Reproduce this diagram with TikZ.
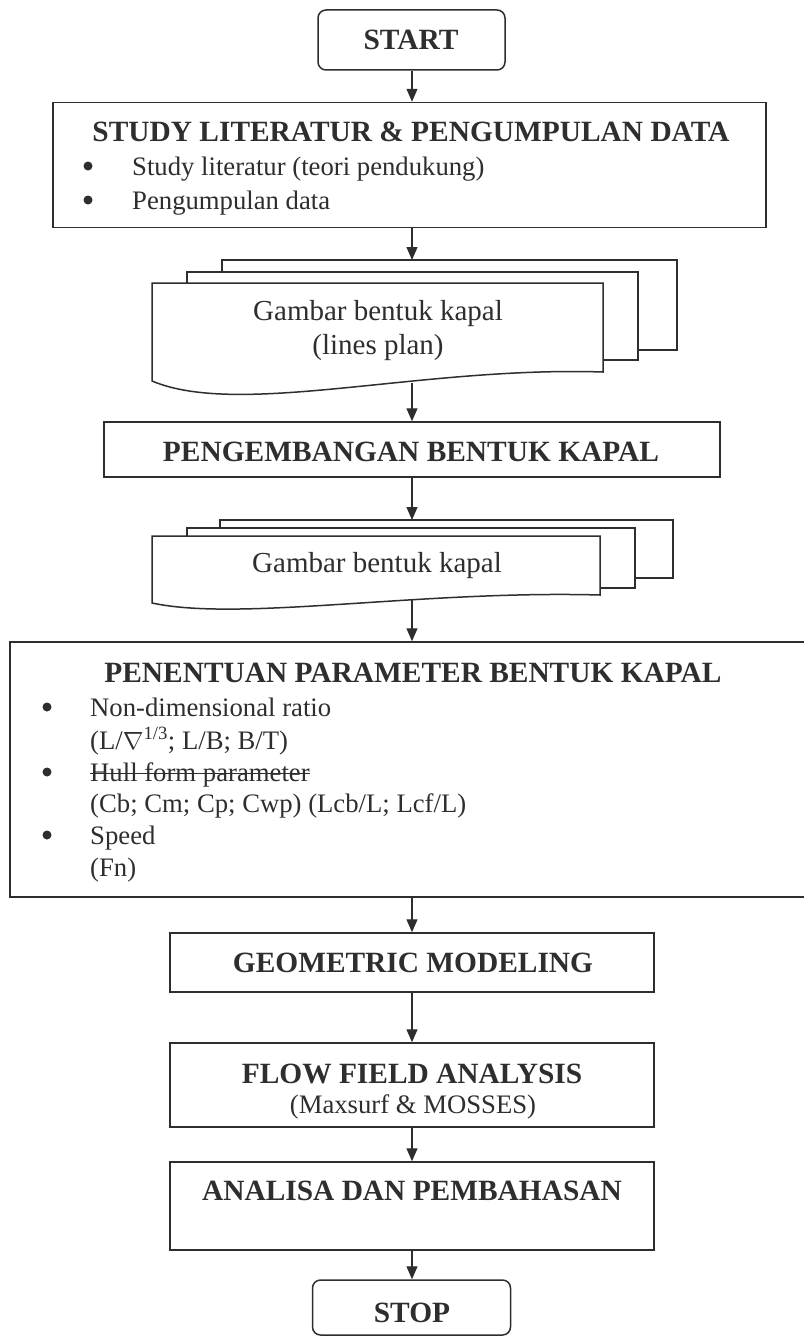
\documentclass[tikz,border=0pt]{standalone}
\usepackage{fontspec}
\setmainfont{Liberation Serif}
\usetikzlibrary{arrows.meta}
\definecolor{ink}{HTML}{2e2e2e}
\tikzset{
  box/.style={draw=ink, line width=1.5pt, inner sep=0pt, fill=white},
  rbox/.style={box, rounded corners=8pt},
  docline/.style={draw=ink, line width=1.5pt, fill=white},
  flow/.style={draw=ink, line width=1.3pt, -{Triangle[length=13pt,width=11pt]}},
  head/.style={font=\fontsize{29.4}{33}\selectfont\bfseries, text=ink, inner sep=0pt, anchor=base},
  body/.style={font=\fontsize{26.7}{31}\selectfont, text=ink, inner sep=0pt, anchor=base west},
  dot/.style={circle, fill=ink, inner sep=0pt, minimum size=9pt},
  doctxt/.style={font=\fontsize{29}{33}\selectfont, text=ink, inner sep=0pt, anchor=base},
  subtxt/.style={font=\fontsize{26.7}{31}\selectfont, text=ink, inner sep=0pt, anchor=base},
}
\begin{document}
\begin{tikzpicture}[x=1pt,y=-1pt]
\useasboundingbox (0,0) rectangle (803,1338);
\fill[white] (0,0) rectangle (803,1338);

% process boxes and terminals
\node[rbox, minimum width=187pt, minimum height=60pt] (start) at (411.5,40) {};
\node[box, minimum width=713pt, minimum height=125pt] (study) at (409.5,165) {};
\node[box, minimum width=616pt, minimum height=55pt] (pengembangan) at (412,449.5) {};
\node[box, minimum width=804pt, minimum height=255pt] (penentuan) at (412,769.5) {};
\node[box, minimum width=484pt, minimum height=59pt] (geometric) at (412,962.5) {};
\node[box, minimum width=484pt, minimum height=84pt] (flow) at (412,1085) {};
\node[box, minimum width=484pt, minimum height=88pt] (analisa) at (412,1206) {};
\node[rbox, minimum width=198pt, minimum height=55pt] (stop) at (411.5,1307.5) {};

% first stack of drawings (lines plan)
\filldraw[docline] (222,260) rectangle (677,350);
\filldraw[docline] (187,272) rectangle (638,360);
\filldraw[docline] (152,381) -- (152,283) -- (603,283) -- (603,372)
  .. controls (420,366) and (240,418) .. (152,381) -- cycle;
\coordinate (doc1top) at (412,260);
\coordinate (doc1bot) at (412,383);

% second stack of drawings
\filldraw[docline] (220,520) rectangle (673,578);
\filldraw[docline] (187,528) rectangle (635,588);
\filldraw[docline] (152,603) -- (152,536) -- (600,536) -- (600,595)
  .. controls (420,590) and (240,622) .. (152,603) -- cycle;
\coordinate (doc2top) at (412,520);
\coordinate (doc2bot) at (412,600);

% texts
\node[head] (tstart) at (411,50) {START};

\node[head] (tstudy) at (411,141) {STUDY LITERATUR \& PENGUMPULAN DATA};
\node[dot] at (88,166) {};
\node[body] (s1) at (132,175) {Study literatur (teori pendukung)};
\node[dot] at (88,200) {};
\node[body] (s2) at (132,209) {Pengumpulan data};

\node[doctxt] (d1a) at (378,320) {Gambar bentuk kapal};
\node[doctxt] (d1b) at (378,354) {(lines plan)};

\node[head] (tpeng) at (411,461) {PENGEMBANGAN BENTUK KAPAL};

\node[doctxt] (d2a) at (377,572) {Gambar bentuk kapal};

\node[head] (tpen) at (413,682) {PENENTUAN PARAMETER BENTUK KAPAL};
\node[dot] at (47,707) {};
\node[body] (p1) at (90,716) {Non-dimensional ratio};
\node[body] (p2) at (90,749) {(L/$\nabla$\textsuperscript{1/3}; L/B; B/T)};
\node[dot] at (47,772) {};
\node[body] (hull) at (90,781) {Hull form parameter};
\draw[ink, line width=1pt] ([yshift=8pt]hull.base west) -- ([yshift=8pt]hull.base east);
\node[body] (p4) at (90,812) {(Cb; Cm; Cp; Cwp) (Lcb/L; Lcf/L)};
\node[dot] at (47,835) {};
\node[body] (p5) at (90,844) {Speed};
\node[body] (p6) at (90,876) {(Fn)};

\node[head] (tgeo) at (413,972) {GEOMETRIC MODELING};
\node[head] (tflow) at (412,1083) {FLOW FIELD ANALYSIS};
\node[subtxt] (tmax) at (413,1113) {(Maxsurf \& MOSSES)};
\node[head] (tana) at (412,1200) {ANALISA DAN PEMBAHASAN};
\node[head] (tstop) at (412,1322) {STOP};

% connectors, all on one vertical line
\coordinate (axis) at (412,0);
\draw[flow] (axis |- start.south) -- (axis |- study.north);
\draw[flow] (axis |- study.south) -- (doc1top);
\draw[flow] (doc1bot) -- (axis |- pengembangan.north);
\draw[flow] (axis |- pengembangan.south) -- (doc2top);
\draw[flow] (doc2bot) -- (axis |- penentuan.north);
\draw[flow] (axis |- penentuan.south) -- (axis |- geometric.north);
\draw[flow] (axis |- geometric.south) -- (axis |- flow.north);
\draw[flow] (axis |- flow.south) -- (axis |- analisa.north);
\draw[flow] (axis |- analisa.south) -- (axis |- stop.north);
\end{tikzpicture}
\end{document}
